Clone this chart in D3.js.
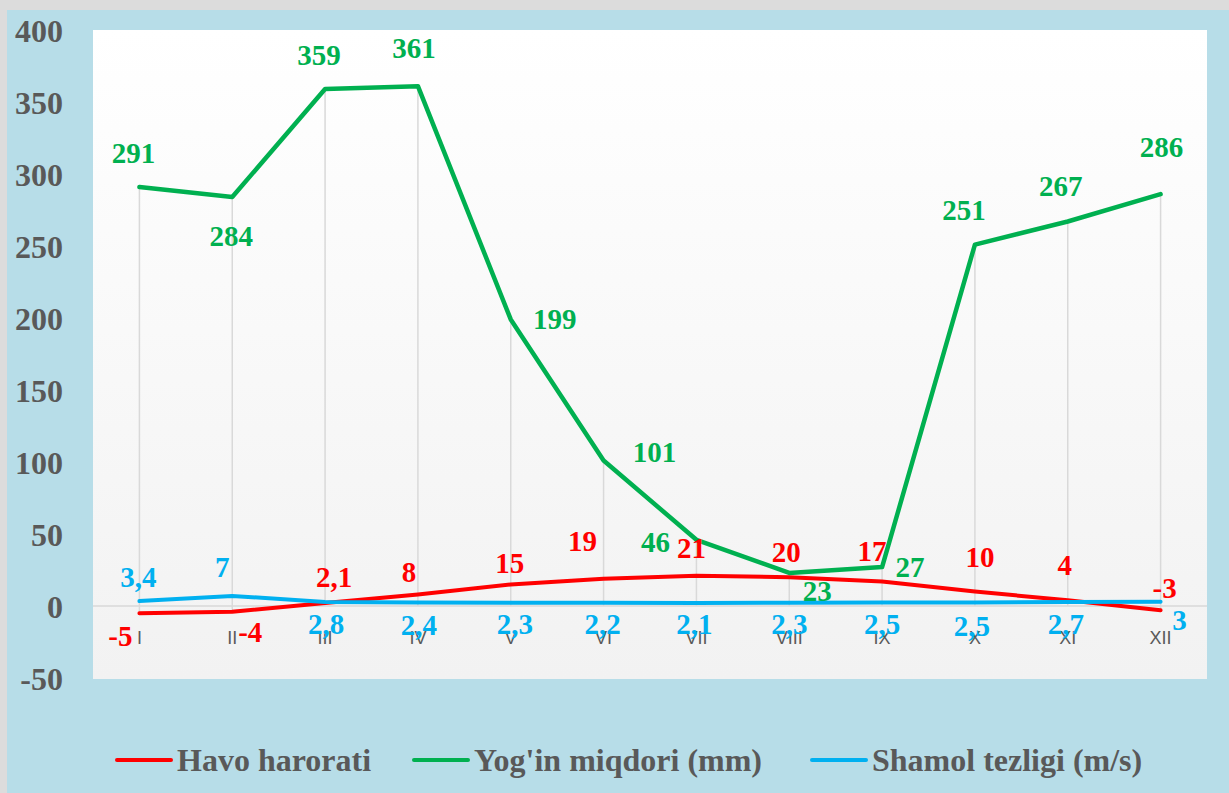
<!DOCTYPE html>
<html>
<head>
<meta charset="utf-8">
<script src="https://cdn.jsdelivr.net/npm/d3@7/dist/d3.min.js"></script>
<style>
  html, body { margin: 0; padding: 0; background: #dcdcdc; }
  svg { display: block; }
</style>
</head>
<body>
<svg id="chart" width="1229" height="793"></svg>
<script>
// ---- data ----
const categories = ["I","II","III","IV","V","VI","VII","VIII","IX","X","XI","XII"];
const havoHarorati = [-5, -4, 2.1, 8, 15, 19, 21, 20, 17, 10, 4, -3];
const yoginMiqdori = [291, 284, 359, 361, 199, 101, 46, 23, 27, 251, 267, 286];
const shamolTezligi = [3.4, 7, 2.8, 2.4, 2.3, 2.2, 2.1, 2.3, 2.5, 2.5, 2.7, 3];
const yTicks = [-50, 0, 50, 100, 150, 200, 250, 300, 350, 400];
const seriesNames = ["Havo harorati", "Yog'in miqdori (mm)", "Shamol tezligi (m/s)"];

// ---- label offsets relative to each point (px) ----
const offRed = [[-19,23],[18,20],[9,-26],[-9,-22],[-1,-21],[-21,-38],[-5,-28],[-3,-25],[-10,-31],[5,-35],[-3,-35],[4,-22]];
const offGreen = [[-6,-34],[-1,39],[-6,-34],[-4,-38],[44,0],[51,-9],[-41,2],[28,18],[28,0],[-11,-35],[-7,-36],[1,-47]];
const offBlue = [[-1,-24],[-10,-29],[1,22],[1,22],[4,21],[-1,21],[-2,21],[0,21],[0,22],[-3,24],[-2,22],[19,18]];

const colors = ["#ff0000", "#00b050", "#00b0f0"];
const fmt = v => String(v).replace(".", ",");

const svg = d3.select("#chart");
const W = 1229, H = 793;

// chart background
svg.append("rect").attr("x", 7).attr("y", 10).attr("width", W - 7).attr("height", H - 10).attr("fill", "#b7dde8");

const plot = { left: 93, right: 1207, top: 30, bottom: 679 };

const defs = svg.append("defs");
const grad = defs.append("linearGradient").attr("id", "pg").attr("x1", 0).attr("y1", 0).attr("x2", 0).attr("y2", 1);
grad.append("stop").attr("offset", "0%").attr("stop-color", "#ffffff");
grad.append("stop").attr("offset", "100%").attr("stop-color", "#f2f2f2");

svg.append("rect")
  .attr("x", plot.left).attr("y", plot.top)
  .attr("width", plot.right - plot.left).attr("height", plot.bottom - plot.top)
  .attr("fill", "url(#pg)");

const x = d3.scaleBand().domain(categories).range([plot.left, plot.right]).paddingInner(0).paddingOuter(0);
const cx = c => x(c) + x.bandwidth() / 2;
const y = d3.scaleLinear().domain([-50, 400]).range([678, 30]);

const serif = "'Liberation Serif', 'Times New Roman', serif";
const sans = "'Liberation Sans', Arial, sans-serif";

// drop lines
const allSeries = [havoHarorati, yoginMiqdori, shamolTezligi];
svg.append("g").selectAll("line").data(categories).join("line")
  .attr("x1", d => cx(d)).attr("x2", d => cx(d))
  .attr("y1", (d, i) => y(Math.max(0, ...allSeries.map(s => s[i]))))
  .attr("y2", (d, i) => y(Math.min(0, ...allSeries.map(s => s[i]))))
  .attr("stroke", "#d9d9d9").attr("stroke-width", 1.5);

// zero axis line
svg.append("line")
  .attr("x1", plot.left).attr("x2", plot.right)
  .attr("y1", y(0)).attr("y2", y(0))
  .attr("stroke", "#d9d9d9").attr("stroke-width", 1.5);

// y axis labels
const yAxis = d3.axisLeft(y).tickValues(yTicks).tickFormat(d => String(d)).tickSize(0).tickPadding(0);
const gy = svg.append("g").attr("transform", "translate(63,0)").call(yAxis);
gy.select(".domain").remove();
gy.selectAll("text")
  .attr("x", 0).attr("dy", null).attr("y", 11)
  .attr("text-anchor", "end")
  .attr("fill", "#595959")
  .style("font-family", serif).style("font-weight", "bold").style("font-size", "32px");

// x axis labels
const xAxis = d3.axisBottom(x).tickSize(0).tickPadding(0);
const gx = svg.append("g").attr("transform", `translate(0,${y(0)})`).call(xAxis);
gx.select(".domain").remove();
gx.selectAll("text")
  .attr("y", 38).attr("dy", null)
  .attr("fill", "#595959")
  .style("font-family", sans).style("font-size", "18px");

// lines
const line = d3.line().x((d, i) => cx(categories[i])).y(d => y(d));
allSeries.forEach((s, k) => {
  svg.append("path").datum(s)
    .attr("d", line)
    .attr("fill", "none")
    .attr("stroke", colors[k])
    .attr("stroke-width", k === 1 ? 4.5 : 4)
    .attr("stroke-linecap", "round")
    .attr("stroke-linejoin", "round");
});

// data labels
const offs = [offRed, offGreen, offBlue];
allSeries.forEach((s, k) => {
  svg.append("g").selectAll("text").data(s).join("text")
    .attr("x", (d, i) => cx(categories[i]) + offs[k][i][0])
    .attr("y", (d, i) => y(d) + offs[k][i][1] + 10)
    .attr("text-anchor", "middle")
    .attr("fill", colors[k])
    .style("font-family", serif).style("font-weight", "bold").style("font-size", "29px")
    .text(d => fmt(d));
});

// legend
const legendX = [117, 414, 812];
const lg = svg.append("g");
seriesNames.forEach((name, k) => {
  lg.append("line")
    .attr("x1", legendX[k]).attr("x2", legendX[k] + 54)
    .attr("y1", 760).attr("y2", 760)
    .attr("stroke", colors[k]).attr("stroke-width", 4).attr("stroke-linecap", "round");
  lg.append("text")
    .attr("x", legendX[k] + 60).attr("y", 771)
    .attr("fill", "#595959")
    .style("font-family", serif).style("font-weight", "bold").style("font-size", "32px")
    .text(name);
});
</script>
</body>
</html>
